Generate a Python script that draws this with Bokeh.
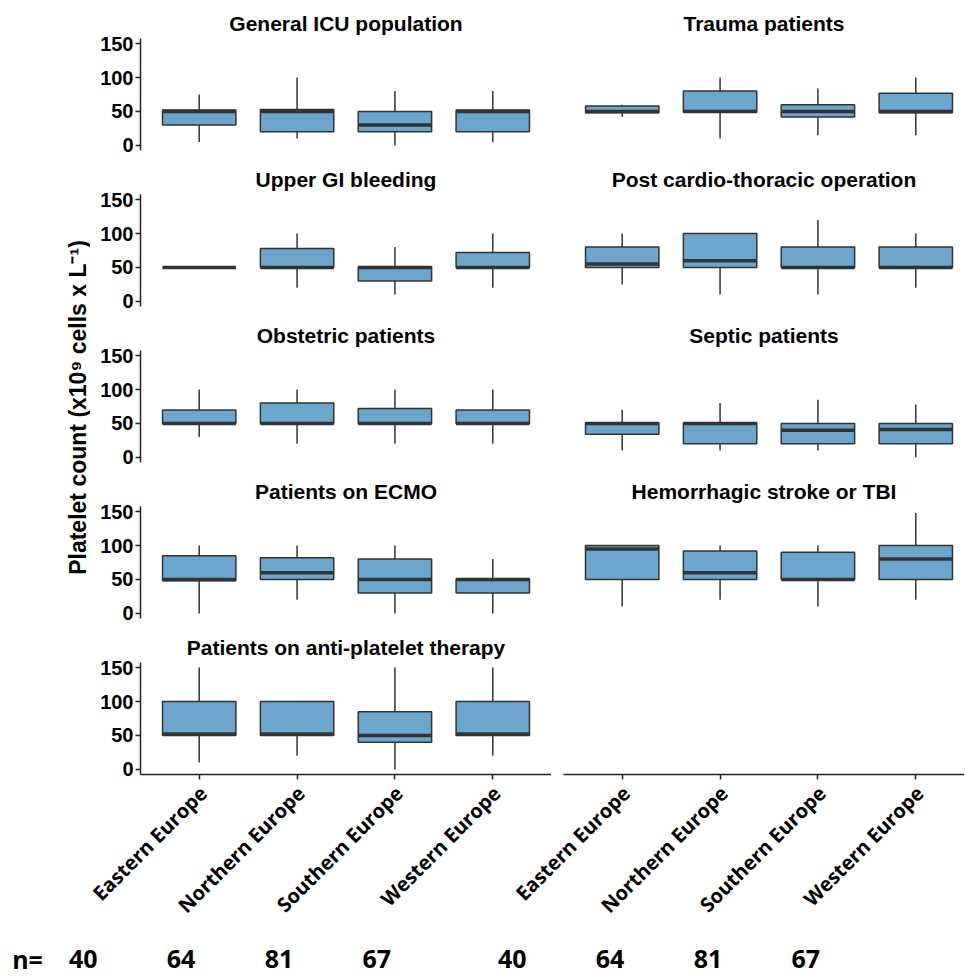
import math
import numpy as np
from bokeh.plotting import figure
from bokeh.layouts import column, row
from bokeh.models import Range1d, FixedTicker, ColumnDataSource
from bokeh.core.properties import value
from bokeh.embed import file_html
from bokeh.resources import INLINE

# ---------------- data ----------------
regions = ["Eastern Europe", "Northern Europe", "Southern Europe", "Western Europe"]
left_titles = ["General ICU population", "Upper GI bleeding", "Obstetric patients",
               "Patients on ECMO", "Patients on anti-platelet therapy"]
right_titles = ["Trauma patients", "Post cardio-thoracic operation",
                "Septic patients", "Hemorrhagic stroke or TBI"]
# rows below follow left_titles then right_titles; columns follow regions
whisker_low = [
    [5, 10, 0, 5],
    [50, 20, 10, 20],
    [30, 20, 20, 20],
    [0, 20, 0, 0],
    [10, 20, 0, 20],
    [42, 10, 15, 15],
    [25, 10, 10, 20],
    [10, 10, 10, 0],
    [10, 20, 10, 20],
]
q1 = [
    [30, 20, 20, 20],
    [50, 50, 30, 50],
    [50, 50, 50, 50],
    [48, 50, 30, 30],
    [50, 50, 40, 50],
    [48, 49, 42, 48],
    [50, 50, 50, 50],
    [34, 20, 20, 20],
    [50, 50, 50, 50],
]
median = [
    [50, 50, 30, 50],
    [50, 50, 50, 50],
    [50, 50, 50, 50],
    [50, 60, 50, 50],
    [52, 52, 50, 52],
    [50, 50, 50, 50],
    [55, 60, 50, 50],
    [50, 50, 40, 41],
    [95, 60, 50, 80],
]
q3 = [
    [52, 53, 50, 52],
    [50, 78, 51, 72],
    [70, 80, 72, 70],
    [85, 82, 80, 51],
    [100, 100, 85, 100],
    [58, 80, 60, 77],
    [80, 100, 80, 80],
    [51, 51, 50, 50],
    [100, 92, 90, 100],
]
whisker_high = [
    [75, 100, 80, 80],
    [50, 100, 80, 100],
    [100, 100, 100, 100],
    [100, 100, 100, 80],
    [150, 100, 150, 150],
    [60, 100, 84, 100],
    [100, 100, 120, 100],
    [70, 80, 85, 78],
    [100, 100, 100, 148],
]
y_ticks = [0, 50, 100, 150]
n_labels = [40, 64, 81, 67, 40, 64, 81, 67]
y_label = "Platelet count (x10\u2079 cells x L\u207b\u00b9)"

# ---------------- style / layout ----------------
FILL = "#6CA6CD"
LINE = "#333333"
AXIS = "#222222"
TITLE_FONT = "Liberation Sans"
X_FONT = "Open Sans"

LBL_W = 90
L_BORDER, L_FRAME = 50, 411
R_BORDER, R_FRAME = 12, 401
FRAME_H = 112
TOP0, TOP = 38, 35
BOT = 9            # below frames of upper rows (room for the "0" labels)
BOT_LAST = 6       # below the last row's frame (ticks only)
PAGE_H = 975
BOX_W = 0.75

unit = L_FRAME / 4.2
x_start = 0.4
left_xr = (x_start, x_start + L_FRAME / unit)
right_xr = (x_start, x_start + R_FRAME / unit)
positions = np.arange(1, len(regions) + 1, dtype=float)


def style_axis(ax, font, size):
    ax.minor_tick_line_color = None
    ax.major_tick_out = 5
    ax.major_tick_in = 0
    ax.axis_line_color = AXIS
    ax.axis_line_width = 1.5
    ax.major_tick_line_color = AXIS
    ax.major_tick_line_width = 1.5
    ax.major_label_text_font = font
    ax.major_label_text_font_style = "bold"
    ax.major_label_text_font_size = size
    ax.major_label_text_color = "black"


def make_panel(title, idx, side, r, last):
    top = TOP0 if r == 0 else TOP
    bottom = BOT_LAST if last else BOT
    border_l = L_BORDER if side == "left" else R_BORDER
    frame_w = L_FRAME if side == "left" else R_FRAME
    xr = left_xr if side == "left" else right_xr
    p = figure(width=border_l + frame_w, height=top + FRAME_H + bottom,
               x_range=Range1d(*xr), y_range=Range1d(-7.5, 157.5),
               x_axis_location="below" if last else None,
               y_axis_location="left" if side == "left" else None,
               title=title, output_backend="svg", toolbar_location=None,
               min_border=0)
    p.min_border_left = border_l
    p.min_border_right = 0
    p.min_border_top = top
    p.min_border_bottom = bottom
    p.outline_line_color = None
    p.background_fill_color = "white"
    p.border_fill_color = "white"
    p.xgrid.visible = False
    p.ygrid.visible = False
    if title:
        p.title.align = "center"
        p.title.text_font = TITLE_FONT
        p.title.text_font_size = "21px"
        p.title.text_font_style = "bold"
        p.title.text_color = "black"
        p.title.standoff = 8
    if side == "left":
        ya = p.yaxis[0]
        ya.ticker = FixedTicker(ticks=y_ticks)
        ya.major_label_standoff = 2
        style_axis(ya, TITLE_FONT, "20px")
    if last:
        xa = p.xaxis[0]
        xa.ticker = FixedTicker(ticks=list(positions))
        # the region names are drawn in the label strip below, so that the
        # rotated names may run past this panel's own left edge
        xa.major_label_overrides = {float(v): "" for v in positions}
        xa.major_label_standoff = 0
        style_axis(xa, X_FONT, "1px")
    if idx is not None:
        src = ColumnDataSource(dict(
            x=positions,
            left=positions - BOX_W / 2,
            right=positions + BOX_W / 2,
            lo=whisker_low[idx], q1=q1[idx], med=median[idx],
            q3=q3[idx], hi=whisker_high[idx]))
        p.segment(x0="x", y0="lo", x1="x", y1="q1", source=src,
                  line_color=LINE, line_width=1.5)
        p.segment(x0="x", y0="q3", x1="x", y1="hi", source=src,
                  line_color=LINE, line_width=1.5)
        p.vbar(x="x", width=BOX_W, bottom="q1", top="q3", source=src,
               fill_color=FILL, line_color=LINE, line_width=1.5)
        p.segment(x0="left", y0="med", x1="right", y1="med", source=src,
                  line_color=LINE, line_width=3.5)
    return p


rows = []
n_rows = len(left_titles)
for r in range(n_rows):
    last = (r == n_rows - 1)
    lp = make_panel(left_titles[r], r, "left", r, last)
    if r < len(right_titles):
        rp = make_panel(right_titles[r], len(left_titles) + r, "right", r, last)
    else:
        rp = make_panel(None, None, "right", r, last)
    rows.append(row(lp, rp, spacing=0))

grid = column(*rows, spacing=0)
grid_h = (TOP0 + FRAME_H + BOT) + (n_rows - 2) * (TOP + FRAME_H + BOT) \
    + (TOP + FRAME_H + BOT_LAST)
total_w = LBL_W + L_BORDER + L_FRAME + R_BORDER + R_FRAME

# y-axis title
yl = figure(width=LBL_W, height=grid_h, x_range=Range1d(0, LBL_W),
            y_range=Range1d(0, grid_h), x_axis_type=None, y_axis_type=None,
            output_backend="svg", toolbar_location=None, min_border=0)
yl.outline_line_color = None
yl.xgrid.visible = False
yl.ygrid.visible = False
yl.text(x=[77], y=[grid_h - 407], text=[y_label], angle=math.pi / 2,
        text_align="center", text_baseline="middle",
        text_font=value(TITLE_FONT), text_font_style="bold",
        text_font_size="23px", text_color="black")

# strip below the panels: rotated region names and the n= row
strip_h = PAGE_H - grid_h
nf = figure(width=total_w, height=strip_h, x_range=Range1d(0, total_w),
            y_range=Range1d(0, strip_h), x_axis_type=None, y_axis_type=None,
            output_backend="svg", toolbar_location=None, min_border=0)
nf.outline_line_color = None
nf.xgrid.visible = False
nf.ygrid.visible = False
left_frame_x = LBL_W + L_BORDER
right_frame_x = left_frame_x + L_FRAME + R_BORDER
left_ticks = left_frame_x + (positions - x_start) * unit
right_ticks = right_frame_x + (positions - x_start) * unit
tick_x = list(left_ticks) + list(right_ticks)

lab_dx, lab_dy = 4, 9            # label end offset from tick / axis line
nf.text(x=[t + lab_dx for t in tick_x], y=[strip_h - lab_dy] * len(tick_x),
        text=regions + regions, angle=math.pi / 4,
        text_align="right", text_baseline="middle",
        text_font=value(X_FONT), text_font_style="bold",
        text_font_size="20px", text_color="black")

n_x = list(left_ticks - 116) + list(right_ticks - 110)
n_y = 17
nf.text(x=n_x, y=[n_y] * len(n_x), text=[str(v) for v in n_labels],
        text_align="center", text_baseline="middle",
        text_font=value(X_FONT), text_font_style="bold",
        text_font_size="25px", text_color="black")
nf.text(x=[27], y=[n_y], text=["n="], text_align="center",
        text_baseline="middle", text_font=value(X_FONT),
        text_font_style="bold", text_font_size="25px", text_color="black")

layout = column(row(yl, grid, spacing=0), nf, spacing=0)

open("out.html", "w").write(file_html(layout, INLINE))
